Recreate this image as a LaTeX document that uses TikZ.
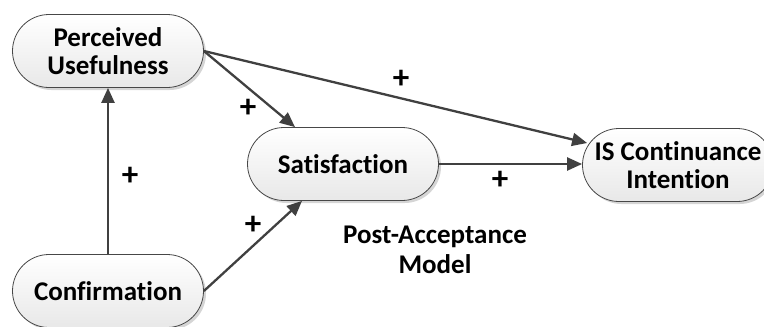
\documentclass[tikz,border=0pt]{standalone}
\usepackage{fontspec}
\setmainfont{Carlito}[Ligatures={NoCommon,NoContextual}]
\usetikzlibrary{arrows.meta,shadows,calc}
\begin{document}
\begin{tikzpicture}[x=1pt,y=-1pt,
  box/.style={rectangle, rounded corners=36.5pt, draw=black!72, line width=0.8pt,
    top color=white, bottom color=black!9, minimum width=191pt, minimum height=73pt,
    inner sep=0pt, align=center, font=\fontsize{27}{28}\selectfont\bfseries,
    drop shadow={shadow xshift=2.5pt, shadow yshift=-2.5pt, fill=black!30, opacity=0.55}},
  link/.style={draw=black!75, line width=2.3pt, -{Triangle[length=15pt,width=13pt]}},
  sign/.style={font=\fontsize{33}{34}\selectfont\bfseries, inner sep=0pt},
  caption/.style={font=\fontsize{27}{30}\selectfont\bfseries, align=center, inner sep=0pt}]
  \useasboundingbox (0,0) rectangle (764,327);

  % constructs
  \node[box] (pu)   at (108,51)  {Perceived\\Usefulness};
  \node[box] (sat)  at (343,164) {Satisfaction};
  \node[box] (is)   at (678,165) {IS Continuance\\Intention};
  \node[box] (conf) at (108,291) {Confirmation};

  % relationships
  \draw[link] (conf.north) -- (pu.south);
  \draw[link] (pu.east) -- ($(sat.north)+(-48,0)$);
  \draw[link] (pu.east) -- ($(is.west)+(5,-22)$);
  \draw[link] (sat.east) -- (is.west |- sat.east);
  \draw[link] (conf.east) -- ($(sat.south)+(-41,0)$);

  % signs of the effects
  \node[sign] (s1) at (130,176) {+};
  \node[sign] (s2) at (248,108) {+};
  \node[sign] (s3) at (401,79)  {+};
  \node[sign] (s4) at (253,225) {+};
  \node[sign] (s5) at (500,180) {+};

  \node[caption] (cap) at (435,250) {Post-Acceptance\\Model};
\end{tikzpicture}
\end{document}
